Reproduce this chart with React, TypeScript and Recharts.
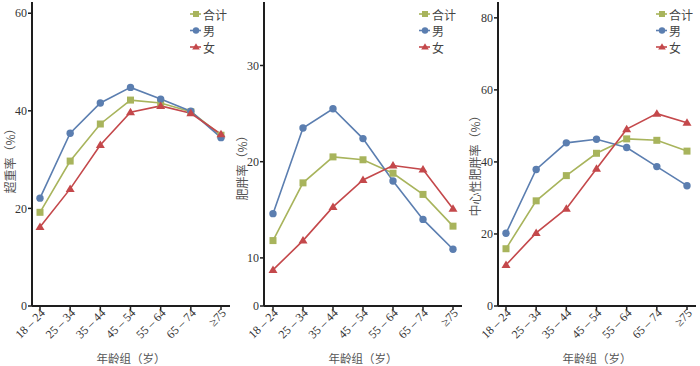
import React from 'react';
import { LineChart, Line, XAxis, YAxis, Legend } from 'recharts';

const ageGroups = ['18 – 24', '25 – 34', '35 – 44', '45 – 54', '55 – 64', '65 – 74', '≥75'];

// 超重率
const overweightTotal = [19.2, 29.7, 37.3, 42.2, 41.6, 39.8, 35.0];
const overweightMale = [22.1, 35.4, 41.6, 44.8, 42.4, 39.9, 34.5];
const overweightFemale = [16.2, 24.0, 33.0, 39.7, 41.0, 39.5, 35.2];

// 肥胖率
const obesityTotal = [11.8, 17.8, 20.5, 20.2, 18.8, 16.6, 13.3];
const obesityMale = [14.6, 23.5, 25.5, 22.4, 18.0, 14.0, 10.9];
const obesityFemale = [7.5, 11.8, 15.3, 18.1, 19.6, 19.2, 15.1];

// 中心性肥胖率
const centralTotal = [15.9, 29.2, 36.2, 42.4, 46.4, 46.0, 43.0];
const centralMale = [20.2, 37.9, 45.3, 46.3, 44.0, 38.7, 33.4];
const centralFemale = [11.4, 20.3, 27.0, 38.1, 49.1, 53.4, 50.9];

const seriesNames = ['合计', '男', '女'];

const GREEN = '#a8b45c';
const BLUE = '#5b7eb0';
const RED = '#c4484b';
const AXIS = '#1e1e1e';
const SERIF = '"Liberation Serif", "DejaVu Serif", serif';
const CJK = '"Noto Sans CJK SC", sans-serif';

// the obesity panel squeezes 0-10 into half the space
const squeeze = (v: number) => (v <= 10 ? v / 2 : v - 5);
const unsqueeze = (t: number) => (t <= 5 ? t * 2 : t + 5);

function buildRows(total: number[], male: number[], female: number[], f = (v: number) => v) {
  return ageGroups.map((g, i) => ({
    group: g,
    total: f(total[i]),
    male: f(male[i]),
    female: f(female[i]),
  }));
}

const SquareDot = (props: any) => {
  const { cx, cy } = props;
  if (cx == null || cy == null) return null;
  return <rect x={cx - 3.5} y={cy - 3.5} width={7} height={7} fill={GREEN} />;
};

const CircleDot = (props: any) => {
  const { cx, cy } = props;
  if (cx == null || cy == null) return null;
  return <circle cx={cx} cy={cy} r={3.7} fill={BLUE} />;
};

const TriangleDot = (props: any) => {
  const { cx, cy } = props;
  if (cx == null || cy == null) return null;
  return <path d={`M${cx},${cy - 4.5}L${cx + 4.5},${cy + 3}L${cx - 4.5},${cy + 3}Z`} fill={RED} />;
};

const XTick = (props: any) => {
  const { x, y, payload } = props;
  const ax = x + 3;
  const ay = y - 1;
  return (
    <text
      x={ax}
      y={ay}
      transform={`rotate(-45, ${ax}, ${ay})`}
      textAnchor="end"
      dominantBaseline="central"
      fontFamily={SERIF}
      fontSize={12}
      fill="#333"
    >
      {payload.value}
    </text>
  );
};

const LegendBox = () => {
  const rows = [
    { name: seriesNames[0], color: GREEN, marker: 'square' },
    { name: seriesNames[1], color: BLUE, marker: 'circle' },
    { name: seriesNames[2], color: RED, marker: 'triangle' },
  ];
  return (
    <svg width={42} height={52}>
      {rows.map((r, i) => {
        const cy = 9 + i * 16.5;
        return (
          <g key={r.name}>
            <line x1={0} x2={11} y1={cy} y2={cy} stroke={r.color} strokeWidth={1.6} />
            {r.marker === 'square' && <rect x={3} y={cy - 3} width={6} height={6} fill={r.color} />}
            {r.marker === 'circle' && <circle cx={6} cy={cy} r={3.2} fill={r.color} />}
            {r.marker === 'triangle' && (
              <path d={`M6,${cy - 3.8}L9.8,${cy + 2.6}L2.2,${cy + 2.6}Z`} fill={r.color} />
            )}
            <text x={13} y={cy} dominantBaseline="central" fontFamily={CJK} fontSize={12} fill="#444">
              {r.name}
            </text>
          </g>
        );
      })}
    </svg>
  );
};

interface PanelProps {
  left: number;
  width: number;
  yWidth: number;
  marginRight: number;
  padL: number;
  padR: number;
  domain: [number, number];
  ticks: number[];
  fmt?: (v: number) => string;
  rows: any[];
  yTitle: string;
  titleY: number;
  legendLeft: number;
}

function Panel(p: PanelProps) {
  const plotLeft = p.yWidth;
  const plotRight = p.width - p.marginRight;
  return (
    <div style={{ position: 'absolute', left: p.left, top: 0, width: p.width, height: 366 }}>
      <LineChart width={p.width} height={366} data={p.rows} margin={{ top: 2, right: p.marginRight, bottom: 0, left: 0 }}>
        <XAxis
          dataKey="group"
          padding={{ left: p.padL, right: p.padR }}
          axisLine={{ stroke: AXIS, strokeWidth: 2 }}
          tickLine={{ stroke: AXIS, strokeWidth: 1.5 }}
          tickSize={4}
          tickMargin={2}
          tick={<XTick />}
          interval={0}
          height={60}
        />
        <YAxis
          width={p.yWidth}
          domain={p.domain}
          ticks={p.ticks}
          allowDataOverflow
          tickFormatter={p.fmt}
          axisLine={{ stroke: AXIS, strokeWidth: 2 }}
          tickLine={{ stroke: AXIS, strokeWidth: 1.5 }}
          tickSize={4}
          tickMargin={1}
          tick={{ fontFamily: SERIF, fontSize: 12, fill: '#333' }}
        />
        <Legend
          layout="vertical"
          align="center"
          verticalAlign="middle"
          content={() => <LegendBox />}
          wrapperStyle={{ left: p.legendLeft, top: 5, width: 42, height: 52 }}
        />
        <Line dataKey="total" name={seriesNames[0]} stroke={GREEN} strokeWidth={1.6} dot={<SquareDot />} isAnimationActive={false} />
        <Line dataKey="male" name={seriesNames[1]} stroke={BLUE} strokeWidth={1.6} dot={<CircleDot />} isAnimationActive={false} />
        <Line dataKey="female" name={seriesNames[2]} stroke={RED} strokeWidth={1.6} dot={<TriangleDot />} isAnimationActive={false} />
      </LineChart>
      <div
        style={{
          position: 'absolute',
          left: 8.5,
          top: p.titleY,
          transform: 'translate(-50%, -50%) rotate(-90deg)',
          whiteSpace: 'nowrap',
          fontFamily: CJK,
          fontSize: 12,
          color: '#555',
        }}
      >
        {p.yTitle}
      </div>
      <div
        style={{
          position: 'absolute',
          left: (plotLeft + plotRight) / 2,
          top: 358,
          transform: 'translate(-50%, -50%)',
          whiteSpace: 'nowrap',
          fontFamily: CJK,
          fontSize: 11.5,
          color: '#555',
        }}
      >
        年龄组（岁）
      </div>
    </div>
  );
}

export default function App() {
  return (
    <div style={{ position: 'absolute', left: 0, top: 0, width: 700, height: 366, background: '#fff', overflow: 'hidden' }}>
      <Panel
        left={0}
        width={232}
        yWidth={32}
        marginRight={2}
        padL={8}
        padR={9}
        domain={[0, 62.3]}
        ticks={[0, 20, 40, 60]}
        rows={buildRows(overweightTotal, overweightMale, overweightFemale)}
        yTitle="超重率（%）"
        titleY={158}
        legendLeft={190}
      />
      <Panel
        left={232}
        width={232}
        yWidth={32}
        marginRight={2}
        padL={9}
        padR={9}
        domain={[0, squeeze(36.6)]}
        ticks={[0, 10, 20, 30].map(squeeze)}
        fmt={(t: number) => String(Math.round(unsqueeze(t)))}
        rows={buildRows(obesityTotal, obesityMale, obesityFemale, squeeze)}
        yTitle="肥胖率（%）"
        titleY={165}
        legendLeft={187}
      />
      <Panel
        left={465}
        width={235}
        yWidth={33}
        marginRight={4}
        padL={8}
        padR={9}
        domain={[0, 84.4]}
        ticks={[0, 20, 40, 60, 80]}
        rows={buildRows(centralTotal, centralMale, centralFemale)}
        yTitle="中心性肥胖率（%）"
        titleY={163}
        legendLeft={191}
      />
    </div>
  );
}
